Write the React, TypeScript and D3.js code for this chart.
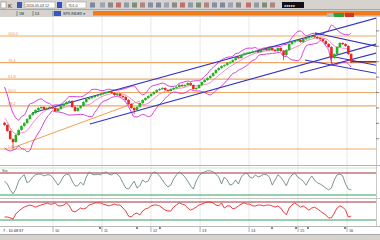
import React from 'react';
import * as d3 from 'd3';

// ---------- data ----------
const startDate = new Date(2009, 0, 5);
const stepDays = 21;

const closes = [979, 901, 797, 758, 849, 914, 966, 1004, 1056, 1108,
  1134, 1173, 1199, 1212, 1186, 1199, 1212, 1199, 1160, 1186,
  1225, 1251, 1277, 1290, 1212, 1160, 1199, 1225, 1277, 1316,
  1329, 1342, 1355, 1368, 1381, 1394, 1404, 1412, 1394, 1368,
  1381, 1355, 1342, 1303, 1251, 1199, 1173, 1212, 1264, 1303,
  1329, 1355, 1381, 1407, 1433, 1446, 1459, 1433, 1420, 1446,
  1459, 1472, 1498, 1485, 1498, 1524, 1498, 1446, 1459, 1498,
  1537, 1563, 1589, 1615, 1653, 1692, 1718, 1744, 1757, 1783,
  1796, 1822, 1861, 1848, 1887, 1908, 1918, 1922, 1931, 1939,
  1926, 1952, 1965, 1952, 1978, 1952, 1939, 1978, 1939, 1887,
  1952, 2030, 2056, 2069, 2082, 2056, 2095, 2108, 2121, 2134,
  2121, 2108, 2095, 2069, 2030, 1991, 1848, 1900, 1991, 2043,
  2030, 2004, 1900, 1800];

const lowWicks = [
  { i: 3, low: 672 },
  { i: 46, low: 1121 },
  { i: 99, low: 1822 },
  { i: 116, low: 1757 },
  { i: 123, low: 1785 },
];

// first band values (before a full window exists)
const bbUpperHead = [1472, 1368, 1238, 1134, 1069, 1043];
const bbMidHead = [1069, 1017, 940, 888, 862, 862];
const bbLowerHead = [680, 654, 641, 654, 667, 706];

const osc1 = [58, 50, 34, 23, 36, 58, 69, 75, 53, 58,
  69, 75, 77, 77, 72, 75, 75, 69, 58, 47,
  58, 72, 77, 75, 58, 45, 45, 55, 47, 69,
  83, 77, 75, 77, 75, 80, 83, 77, 75, 80,
  77, 69, 53, 39, 36, 47, 58, 39, 45, 61,
  55, 58, 75, 83, 80, 72, 61, 50, 42, 47,
  64, 75, 83, 77, 69, 58, 45, 36, 58, 72,
  80, 83, 86, 86, 83, 77, 69, 50, 69, 61,
  47, 50, 61, 50, 69, 77, 80, 69, 66, 75,
  69, 72, 77, 75, 69, 47, 61, 75, 69, 58,
  45, 64, 75, 80, 69, 64, 58, 47, 61, 72,
  61, 53, 50, 45, 39, 34, 39, 61, 75, 77,
  72, 50, 36, 34];

const osc2 = [30, 30, 27, 23, 40, 50, 57, 63, 67, 70,
  67, 63, 67, 70, 73, 77, 73, 73, 77, 67,
  67, 70, 77, 67, 50, 47, 53, 60, 57, 60,
  70, 73, 77, 77, 77, 73, 70, 67, 70, 73,
  70, 70, 60, 50, 33, 30, 40, 43, 37, 50,
  57, 60, 67, 70, 70, 67, 60, 53, 50, 50,
  63, 70, 77, 73, 70, 60, 53, 57, 63, 70,
  73, 77, 80, 80, 77, 70, 67, 77, 60, 67,
  67, 57, 60, 67, 73, 77, 73, 73, 67, 67,
  70, 70, 67, 70, 70, 67, 63, 67, 60, 47,
  37, 60, 70, 77, 70, 63, 67, 60, 53, 60,
  63, 57, 50, 43, 37, 27, 27, 43, 60, 67,
  63, 53, 30, 33];

const fibRange = [667, 2134];
const fibLevels = [0, 38.2, 50, 61.8, 76.4, 100];
const fibLabels = ['0.0', '38.2', '50.0', '61.8', '76.4', '100.0'];

const yearStarts = [2010, 2011, 2012, 2013, 2014, 2015, 2016];
const yearLabels = ['10', '11', '12', '13', '14', '15', '16'];

const oscLevels = [80, 20];
const rightTicks = [800, 1000, 1200, 1400, 1600, 1800, 2000, 2200];

const blueLines = [
  { d1: '2009-07-29', p1: 1134, d2: '2016-09-03', p2: 2380 },
  { d1: '2010-10-03', p1: 991, d2: '2016-09-03', p2: 2043 },
  { d1: '2015-05-07', p1: 2173, d2: '2016-09-03', p2: 1991 },
  { d1: '2015-01-15', p1: 1653, d2: '2016-09-03', p2: 1926 },
  { d1: '2015-02-21', p1: 1822, d2: '2016-09-03', p2: 1640 },
  { d1: '2015-08-27', p1: 1874, d2: '2016-09-03', p2: 1744 },
];
const orangeLine = { d1: '2009-03-02', p1: 680, d2: '2011-10-11', p2: 1290 };

const eventDates = ['2010-12-17', '2011-09-19', '2012-03-08', '2014-06-21', '2014-12-17', '2015-03-16', '2015-12-17'];

// ---------- component ----------
const FONT = 'Liberation Sans, DejaVu Sans, sans-serif';

export default function App() {
  const dates = closes.map((_, i) => d3.timeDay.offset(startDate, i * stepDays));
  const x = d3.scaleTime().domain([new Date(2010, 0, 1), new Date(2016, 0, 1)]).range([53, 347]);
  const y = d3.scaleLinear().domain(fibRange).range([149, 36]);
  const y1 = d3.scaleLinear().domain([20, 80]).range([195, 173]);
  const y2 = d3.scaleLinear().domain([20, 80]).range([220, 202]);
  const pd = (s: string) => d3.timeParse('%Y-%m-%d')(s) as Date;

  const N = 7;
  const K = 2.5;
  const bb = closes.map((c, i) => {
    if (i < N - 1) return { u: bbUpperHead[i], m: bbMidHead[i], l: bbLowerHead[i] };
    const w = closes.slice(i - N + 1, i + 1);
    const m = d3.mean(w) as number;
    const s = d3.deviation(w) as number;
    return { u: m + K * s, m, l: m - K * s };
  });

  const bandLine = (key: 'u' | 'm' | 'l') =>
    d3.line<any>().x((_, i) => x(dates[i])).y((d) => y(d[key])).curve(d3.curveMonotoneX)(bb) || '';
  const oscPath = (vals: number[], sc: any) =>
    d3.line<number>().x((_, i) => x(dates[i])).y((d) => sc(d))(vals) || '';

  const W = 380, H = 240;
  const plotR = 376;
  const mainTop = 17, mainBot = 165;

  const candles = closes.map((c, i) => {
    const o = i === 0 ? c + 30 : closes[i - 1];
    const cx = x(dates[i]);
    const top = y(Math.max(o, c));
    const bot = y(Math.min(o, c));
    const up = c >= o;
    const wick = lowWicks.find((w) => w.i === i);
    return { cx, top, bot, up, wickY: wick ? y(wick.low) : null };
  });

  const lastY = y(closes[closes.length - 1]);
  const lastX = x(dates[dates.length - 1]);
  const UP = '#22b422', DOWN = '#e8281f';

  return (
    <svg width={W} height={H} style={{ position: 'fixed', left: 0, top: 0, background: '#fff' }} fontFamily={FONT}>
      <defs>
        <clipPath id="mainClip"><rect x={0} y={mainTop} width={plotR} height={mainBot - mainTop} /></clipPath>
        <clipPath id="p1Clip"><rect x={0} y={166} width={plotR} height={32} /></clipPath>
        <clipPath id="p2Clip"><rect x={0} y={199} width={plotR} height={27} /></clipPath>
      </defs>

      {/* toolbar */}
      <rect x={0} y={0} width={W} height={10} fill="#d6d3ce" />
      <line x1={0} x2={W} y1={9.5} y2={9.5} stroke="#a8a8a8" />
      <rect x={1} y={2} width={5} height={6} fill="#fff" stroke="#777" strokeWidth={0.5} />
      <text x={8} y={7.5} fontSize={6} fill="#222">K</text>
      <rect x={17} y={2} width={5} height={6} fill="#3a5ab0" />
      <rect x={25} y={2} width={30} height={6} fill="#fff" stroke="#999" strokeWidth={0.5} />
      <text x={26} y={6.8} fontSize={3.6} fill="#333">2016.05.03 12</text>
      <rect x={57} y={2} width={5} height={6} fill="#3050c8" />
      <rect x={66} y={2} width={20} height={6} fill="#fff" stroke="#999" strokeWidth={0.5} />
      <text x={68} y={6.8} fontSize={3.6} fill="#333">7D1.0</text>
      {[90, 100, 108, 116, 124, 132, 140, 148, 156, 164, 172, 180, 188, 196, 204, 212, 220, 228, 236, 246, 254, 262, 270].map((px, k) => (
        <rect key={k} x={px} y={2.5} width={5} height={5}
          fill={['#5a6a8a', '#8090b0', '#6a6a6a', '#c04040', '#7080a0', '#507050', '#a06060', '#6070a0'][k % 8]} opacity={0.7} />
      ))}
      <rect x={282} y={2} width={22} height={6} fill="#111" />
      <text x={284} y={6.6} fontSize={3.6} fill="#fff">●●●●●</text>

      {/* tab row */}
      <rect x={0} y={10} width={W} height={7} fill="#d6d3ce" />
      {[17, 33, 53].map((px) => <line key={px} x1={px} x2={px} y1={11} y2={16} stroke="#555" strokeWidth={0.6} />)}
      <text x={19} y={15} fontSize={3.6} fill="#222">1M</text>
      <text x={35} y={15} fontSize={3.6} fill="#222">D1</text>
      <rect x={54} y={11} width={7} height={5} fill="#3a56c0" />
      <text x={63} y={15} fontSize={3.6} fill="#222">SPX.INDEX ▾</text>
      <rect x={93} y={11} width={W - 93} height={4.5} fill="#f07b1a" />
      <rect x={327} y={13} width={6} height={4} fill="#b8b8b8" />
      <rect x={334} y={13} width={10} height={4} fill="#2ea03a" />
      <rect x={345} y={13} width={9} height={4} fill="#d8302c" />
      <text x={357} y={16.5} fontSize={3.2} fill="#666">- - - -</text>

      {/* main panel */}
      <rect x={0} y={mainTop} width={plotR} height={mainBot - mainTop} fill="#fff" />
      {yearStarts.map((yr) => (
        <line key={yr} x1={x(new Date(yr, 0, 1))} x2={x(new Date(yr, 0, 1))} y1={mainTop} y2={226} stroke="#e8e8e8" strokeWidth={1} />
      ))}
      <g clipPath="url(#mainClip)">
        {fibLevels.map((f, k) => {
          const yy = y(fibRange[0] + (fibRange[1] - fibRange[0]) * f / 100);
          return (
            <g key={f}>
              <line x1={0} x2={plotR} y1={yy} y2={yy} stroke="#f2a866" strokeWidth={1.2} />
              <text x={8} y={yy - 1} fontSize={4} fill="#e8945a">{fibLabels[k]}</text>
            </g>
          );
        })}
        <line x1={x(pd(orangeLine.d1))} y1={y(orangeLine.p1)} x2={x(pd(orangeLine.d2))} y2={y(orangeLine.p2)} stroke="#f0a050" strokeWidth={1} />
        <path d={bandLine('u')} fill="none" stroke="#d22ad2" strokeWidth={0.9} />
        <path d={bandLine('l')} fill="none" stroke="#d22ad2" strokeWidth={0.9} />
        <path d={bandLine('m')} fill="none" stroke="#f070b8" strokeWidth={0.8} />
        {blueLines.map((l, k) => (
          <line key={k} x1={x(pd(l.d1))} y1={y(l.p1)} x2={x(pd(l.d2))} y2={y(l.p2)} stroke="#3434c4" strokeWidth={1.1} />
        ))}
        <line x1={lastX} x2={plotR} y1={lastY} y2={lastY} stroke="#7a1010" strokeWidth={1.2} />
        {candles.map((c, i) => (
          <g key={i}>
            {c.wickY !== null && (
              <line x1={c.cx} x2={c.cx} y1={c.bot} y2={c.wickY} stroke={c.up ? UP : DOWN} strokeWidth={0.8} />
            )}
            <line x1={c.cx} x2={c.cx} y1={c.top - 1} y2={c.bot + 1} stroke={c.up ? UP : DOWN} strokeWidth={0.6} />
            <rect x={c.cx - 1.3} y={c.top} width={2.6} height={Math.max(1.2, c.bot - c.top)} fill={c.up ? UP : DOWN} />
          </g>
        ))}
      </g>
      {/* right axis strip */}
      <rect x={plotR} y={mainTop} width={W - plotR} height={226 - mainTop} fill="#fff" />
      <line x1={plotR + 0.5} x2={plotR + 0.5} y1={mainTop} y2={226} stroke="#c8c8c8" />
      {rightTicks.map((p) => <line key={p} x1={plotR} x2={plotR + 3} y1={y(p)} y2={y(p)} stroke="#555" strokeWidth={0.7} />)}
      <line x1={0} x2={W} y1={165.5} y2={165.5} stroke="#b4b4b4" />

      {/* panel 1 */}
      <line x1={0} x2={plotR} y1={168} y2={168} stroke="#cfe3d6" />
      <g clipPath="url(#p1Clip)">
        <line x1={0} x2={plotR} y1={y1(oscLevels[0])} y2={y1(oscLevels[0])} stroke="#a5303c" strokeWidth={1} />
        <line x1={0} x2={plotR} y1={y1(oscLevels[1])} y2={y1(oscLevels[1])} stroke="#32a05a" strokeWidth={1} />
        <path d={oscPath(osc1, y1)} fill="none" stroke="#6c8c7e" strokeWidth={0.9} />
      </g>
      <text x={2} y={172} fontSize={3.6} fill="#444">Sto</text>
      <line x1={0} x2={W} y1={198.5} y2={198.5} stroke="#c4c4c4" />

      {/* panel 2 */}
      <g clipPath="url(#p2Clip)">
        <line x1={0} x2={plotR} y1={y2(oscLevels[0])} y2={y2(oscLevels[0])} stroke="#a5303c" strokeWidth={1} />
        <line x1={0} x2={plotR} y1={y2(oscLevels[1])} y2={y2(oscLevels[1])} stroke="#32a05a" strokeWidth={1} />
        <path d={oscPath(osc2, y2)} fill="none" stroke="#e6262a" strokeWidth={0.9} />
      </g>

      {/* bottom axis */}
      <rect x={0} y={226} width={W} height={8} fill="#fff" />
      <line x1={0} x2={W} y1={226.5} y2={226.5} stroke="#b8b8b8" />
      {yearStarts.map((yr, k) => {
        const px = x(new Date(yr, 0, 1));
        return (
          <g key={yr}>
            <line x1={px} x2={px} y1={227} y2={232} stroke="#777" strokeWidth={0.6} />
            <text x={px + 2} y={231.5} fontSize={3.8} fill="#333">{yearLabels[k]}</text>
          </g>
        );
      })}
      {eventDates.map((d) => <rect key={d} x={x(pd(d)) - 0.5} y={227} width={1} height={2} fill="#111" />)}
      <text x={3} y={231.5} fontSize={3.8} fill="#222">7 - 10:48:37</text>

      {/* status bar */}
      <rect x={0} y={234} width={W} height={6} fill="#d6d3ce" />
      <line x1={0} x2={W} y1={234.5} y2={234.5} stroke="#a8a8a8" />
    </svg>
  );
}
